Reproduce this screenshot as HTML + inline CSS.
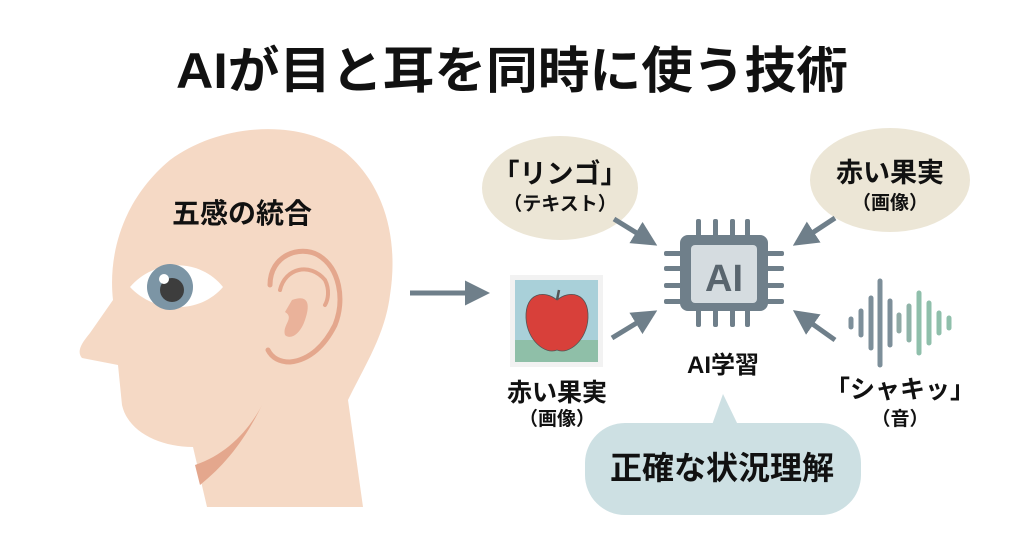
<!DOCTYPE html>
<html><head><meta charset="utf-8"><style>
html,body{margin:0;padding:0;background:#fff;}
svg{display:block;}
text{font-family:"Liberation Sans","Noto Sans CJK JP",sans-serif;font-weight:bold;fill:#111;}
</style></head><body>
<svg width="1024" height="559" viewBox="0 0 1024 559" xmlns="http://www.w3.org/2000/svg">
<defs>
<marker id="ah" viewBox="0 0 10 10" refX="8" refY="5" markerWidth="5" markerHeight="5" orient="auto"><path d="M0,0 L10,5 L0,10 Z" fill="#6f7f8a"/></marker>
</defs>
<text x="512" y="88" font-size="50" text-anchor="middle" textLength="672" lengthAdjust="spacingAndGlyphs">AIが目と耳を同時に使う技術</text>

<!-- head -->
<path d="M207,507 L193,447 C160,447 128,432 122,405 L118,365 L82,358 C77,352 80,345 90,333 L113,300 C108,255 122,200 170,160 C220,123 300,118 345,152 C388,188 398,245 390,295 C385,335 365,365 348,400 L363,507 Z" fill="#f5d9c5"/>
<path d="M262,405 C245,440 225,465 200,485 L195,465 C225,455 248,432 262,405 Z" fill="#e4a78d"/>
<!-- eye -->
<path d="M130,287 C155,258 200,258 223,287 C200,314 155,314 130,287 Z" fill="#fff"/>
<circle cx="170" cy="287" r="23" fill="#7c95a5"/>
<circle cx="172" cy="290" r="12" fill="#3d3d3d"/>
<circle cx="164" cy="279" r="5" fill="#fff"/>
<!-- ear -->
<path d="M270,285 C270,255 300,245 318,255 C340,268 345,300 335,325 C325,345 310,360 290,362 C280,362 272,358 268,350" fill="none" stroke="#e4a78d" stroke-width="5" stroke-linecap="round"/>
<path d="M280,290 C285,268 310,262 325,280 C330,290 328,300 325,305" fill="none" stroke="#e4a78d" stroke-width="4" stroke-linecap="round"/>
<path d="M292,300 C305,295 312,300 305,320 C300,335 290,340 285,335 C282,325 295,318 285,312 Z" fill="#eab29a"/>
<text x="242" y="223" font-size="28" text-anchor="middle">五感の統合</text>

<!-- arrow head->apple -->
<line x1="410" y1="293" x2="485" y2="293" stroke="#6f7f8a" stroke-width="5" marker-end="url(#ah)"/>

<!-- bubbles -->
<ellipse cx="560" cy="188" rx="78" ry="52" fill="#ece6d6"/>
<text x="560" y="183" font-size="27" text-anchor="middle">「リンゴ」</text>
<text x="560" y="210" font-size="19" text-anchor="middle">（テキスト）</text>
<ellipse cx="890" cy="180" rx="80" ry="52" fill="#ece6d6"/>
<text x="890" y="182" font-size="27" text-anchor="middle">赤い果実</text>
<text x="890" y="209" font-size="19" text-anchor="middle">（画像）</text>

<!-- arrows to chip -->
<g stroke="#6f7f8a" stroke-width="5" marker-end="url(#ah)">
<line x1="614" y1="219" x2="653" y2="243"/>
<line x1="835" y1="218" x2="797" y2="243"/>
<line x1="612" y1="338" x2="653" y2="313"/>
<line x1="835" y1="340" x2="797" y2="313"/>
</g>

<!-- chip -->
<g fill="#6f7f8a">
<rect x="680" y="235" width="88" height="76" rx="8"/>
<rect x="696" y="219" width="5" height="18" rx="2"/><rect x="713" y="219" width="5" height="18" rx="2"/><rect x="730" y="219" width="5" height="18" rx="2"/><rect x="745" y="219" width="5" height="18" rx="2"/>
<rect x="696" y="309" width="5" height="18" rx="2"/><rect x="713" y="309" width="5" height="18" rx="2"/><rect x="730" y="309" width="5" height="18" rx="2"/><rect x="745" y="309" width="5" height="18" rx="2"/>
<rect x="664" y="251" width="18" height="5" rx="2"/><rect x="664" y="266" width="18" height="5" rx="2"/><rect x="664" y="283" width="18" height="5" rx="2"/><rect x="664" y="299" width="18" height="5" rx="2"/>
<rect x="766" y="251" width="18" height="5" rx="2"/><rect x="766" y="266" width="18" height="5" rx="2"/><rect x="766" y="283" width="18" height="5" rx="2"/><rect x="766" y="299" width="18" height="5" rx="2"/>
</g>
<rect x="691" y="245" width="66" height="58" rx="4" fill="#d5dce0"/>
<text x="724" y="291" font-size="38" text-anchor="middle" style="fill:#59656e">AI</text>
<text x="723" y="373" font-size="24" text-anchor="middle">AI学習</text>

<!-- apple image -->
<rect x="510" y="275" width="93" height="92" fill="#f2f2f2"/>
<rect x="515" y="280" width="83" height="82" fill="#a9d0d9"/>
<rect x="515" y="340" width="83" height="22" fill="#8fbfa8"/>
<path d="M557,300 C545,290 525,292 526,318 C527,340 545,355 557,350 C569,355 587,340 588,318 C589,292 569,290 557,300 Z" fill="#d8403a" stroke="#555" stroke-width="0.8"/>
<path d="M557,300 L559,290" stroke="#555" stroke-width="2.5"/>
<text x="557" y="401" font-size="25" text-anchor="middle">赤い果実</text>
<text x="557" y="425" font-size="19" text-anchor="middle">（画像）</text>

<!-- sound wave -->
<g stroke-linecap="round" stroke-width="5">
<line x1="851" y1="319" x2="851" y2="327" stroke="#7d8f9a"/>
<line x1="861" y1="311" x2="861" y2="335" stroke="#7d8f9a"/>
<line x1="871" y1="298" x2="871" y2="348" stroke="#7d8f9a"/>
<line x1="880" y1="281" x2="880" y2="365" stroke="#7d8f9a"/>
<line x1="890" y1="301" x2="890" y2="345" stroke="#7d8f9a"/>
<line x1="899" y1="315" x2="899" y2="331" stroke="#8fa9a5"/>
<line x1="909" y1="306" x2="909" y2="340" stroke="#8fb3a8"/>
<line x1="919" y1="293" x2="919" y2="353" stroke="#8fbfab"/>
<line x1="929" y1="303" x2="929" y2="343" stroke="#8fbfab"/>
<line x1="939" y1="313" x2="939" y2="333" stroke="#8fbfab"/>
<line x1="949" y1="318" x2="949" y2="328" stroke="#8fbfab"/>
</g>
<text x="900" y="398" font-size="25" text-anchor="middle">「シャキッ」</text>
<text x="900" y="425" font-size="19" text-anchor="middle">（音）</text>

<!-- result bubble -->
<path d="M712,425 L723,394 L738,425 Z" fill="#cde0e3"/>
<rect x="585" y="423" width="276" height="92" rx="40" fill="#cde0e3"/>
<text x="722" y="479" font-size="32" text-anchor="middle">正確な状況理解</text>
</svg>
</body></html>
